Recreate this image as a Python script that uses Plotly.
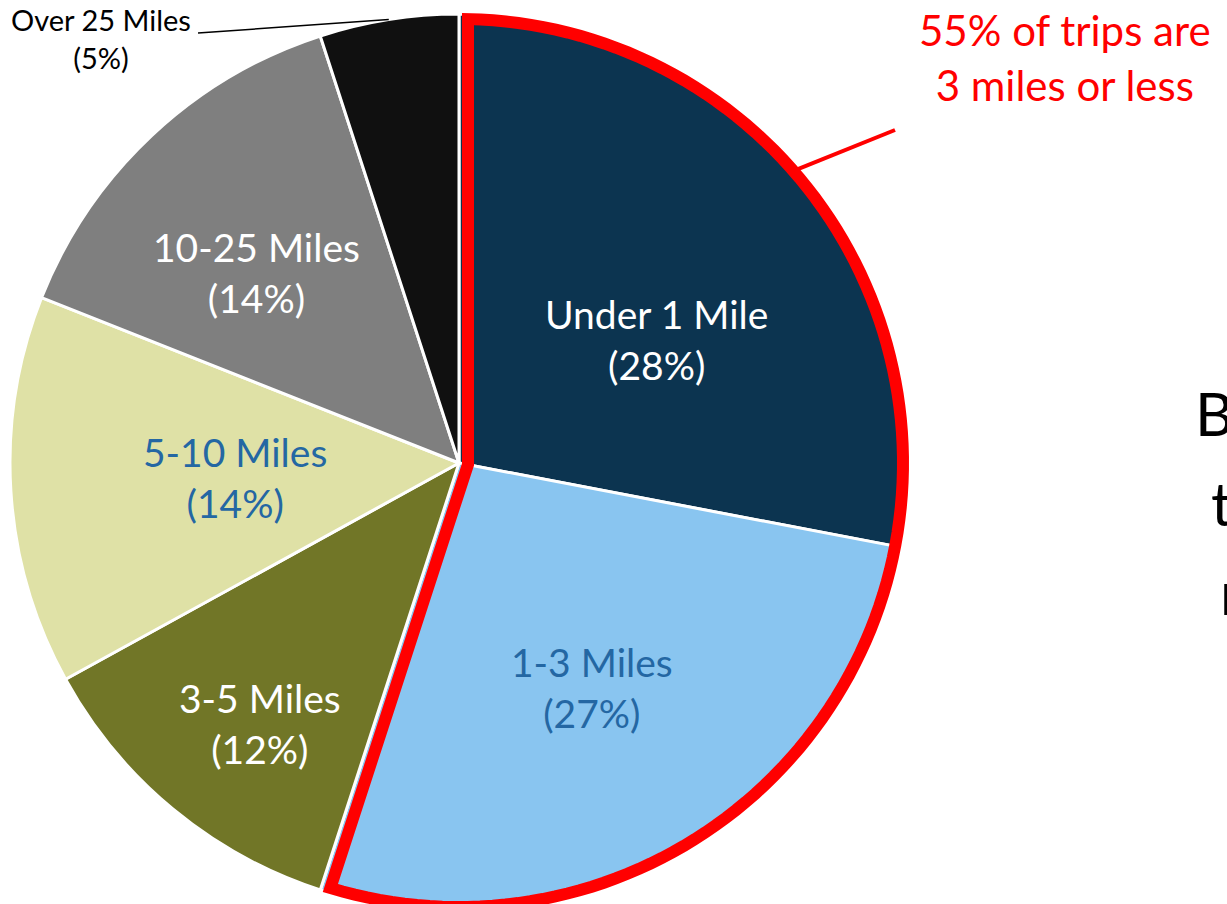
import math
import plotly.graph_objects as go

# ---- data ----
categories = ["Under 1 Mile", "1-3 Miles", "3-5 Miles", "5-10 Miles", "10-25 Miles", "Over 25 Miles"]
shares = [28, 27, 12, 14, 14, 5]
colors = ["#0C3450", "#89C5F0", "#717627", "#DFE1A6", "#7F7F7F", "#101010"]
label_colors = ["white", "#2467A3", "white", "#2467A3", "white", "black"]
highlight_share = 55
highlight_text = "55% of trips are<br>3 miles or less"
side_text = ["B", "t", "r"]

# ---- layout geometry ----
W, H = 1227, 922
CX, CY, R = 459, 463, 449

def px(x):
    return x / W

def py(y):
    return 1 - y / H

def polar(frac_angle, r, cx=CX, cy=CY):
    a = 2 * math.pi * frac_angle
    return cx + r * math.sin(a), cy - r * math.cos(a)

fig = go.Figure()
fig.add_trace(go.Pie(
    labels=categories, values=shares, sort=False, direction="clockwise", rotation=0,
    marker=dict(colors=colors, line=dict(color="white", width=3)),
    textinfo="none", hoverinfo="label+percent", showlegend=False,
    domain=dict(x=[px(CX - R), px(CX + R)], y=[py(CY + R), py(CY - R)]),
))

# red outline around the highlighted sector (built from the highlight share)
RA, INSET = 444, 9
frac = highlight_share / 100
half = math.pi * frac
d = INSET / math.sin(half)
apx, apy = polar(frac / 2, d)
da = math.asin(INSET / RA) / (2 * math.pi)
pts = [(apx, apy)]
n = 120
for k in range(n + 1):
    f = da + (frac - 2 * da) * k / n
    pts.append(polar(f, RA))
path = "M " + " L ".join(f"{px(x):.5f},{py(y):.5f}" for x, y in pts) + " Z"
shapes = [dict(type="path", xref="paper", yref="paper", path=path,
               line=dict(color="#FF0000", width=12), fillcolor="rgba(0,0,0,0)")]

# inside labels
label_r = [0.52, 0.58, 0.73, 0.50, 0.62]
label_da = [0.021, 0.0, -0.006, 0.0, -0.01]
annotations = []
cum = 0
mids = []
for s in shares:
    mids.append((cum + s / 2) / 100)
    cum += s
font_main = "Lato, 'Open Sans', sans-serif"
for i in range(5):
    x, y = polar(mids[i] + label_da[i], R * label_r[i])
    annotations.append(dict(
        x=px(x), y=py(y), xref="paper", yref="paper", showarrow=False,
        text=f"{categories[i]}<br>({shares[i]}%)",
        font=dict(family=font_main, size=39, color=label_colors[i]),
        align="center", xanchor="center", yanchor="middle",
    ))

# Over 25 label with leader line
ex, ey = polar(mids[5], R)
annotations.append(dict(
    x=px(101), y=py(38), xref="paper", yref="paper", showarrow=False,
    text=f"{categories[5]}<br>({shares[5]}%)",
    font=dict(family=font_main, size=29, color="black"),
    align="center", xanchor="center", yanchor="middle",
))
shapes.append(dict(type="line", xref="paper", yref="paper", x0=px(198), y0=py(33), x1=px(ex), y1=py(ey),
                   line=dict(color="black", width=1.5)))

# red callout
sx, sy = polar(0.136, RA + 2)
shapes.append(dict(type="line", xref="paper", yref="paper", x0=px(sx), y0=py(sy), x1=px(895), y1=py(130),
                   line=dict(color="#FF0000", width=4)))
annotations.append(dict(
    x=px(1065), y=py(58), xref="paper", yref="paper", showarrow=False,
    text=highlight_text, font=dict(family=font_main, size=42, color="#FF0000"),
    align="center", xanchor="center", yanchor="middle",
))

# side text (cut off by the right edge, as in the reference)
for i, t in enumerate(side_text):
    annotations.append(dict(
        x=px([1193, 1209, 1218][i]), y=py([413, 503, 592][i]), xref="paper", yref="paper", showarrow=False,
        text=t, font=dict(family=font_main, size=60, color="black"),
        xanchor="left", yanchor="middle",
    ))

fig.update_layout(
    width=W, height=H, margin=dict(l=0, r=0, t=0, b=0),
    paper_bgcolor="white", plot_bgcolor="white",
    annotations=annotations, shapes=shapes,
)

fig.write_html("out.html", post_script="document.documentElement.style.overflow='hidden';document.body.style.overflow='hidden';")
